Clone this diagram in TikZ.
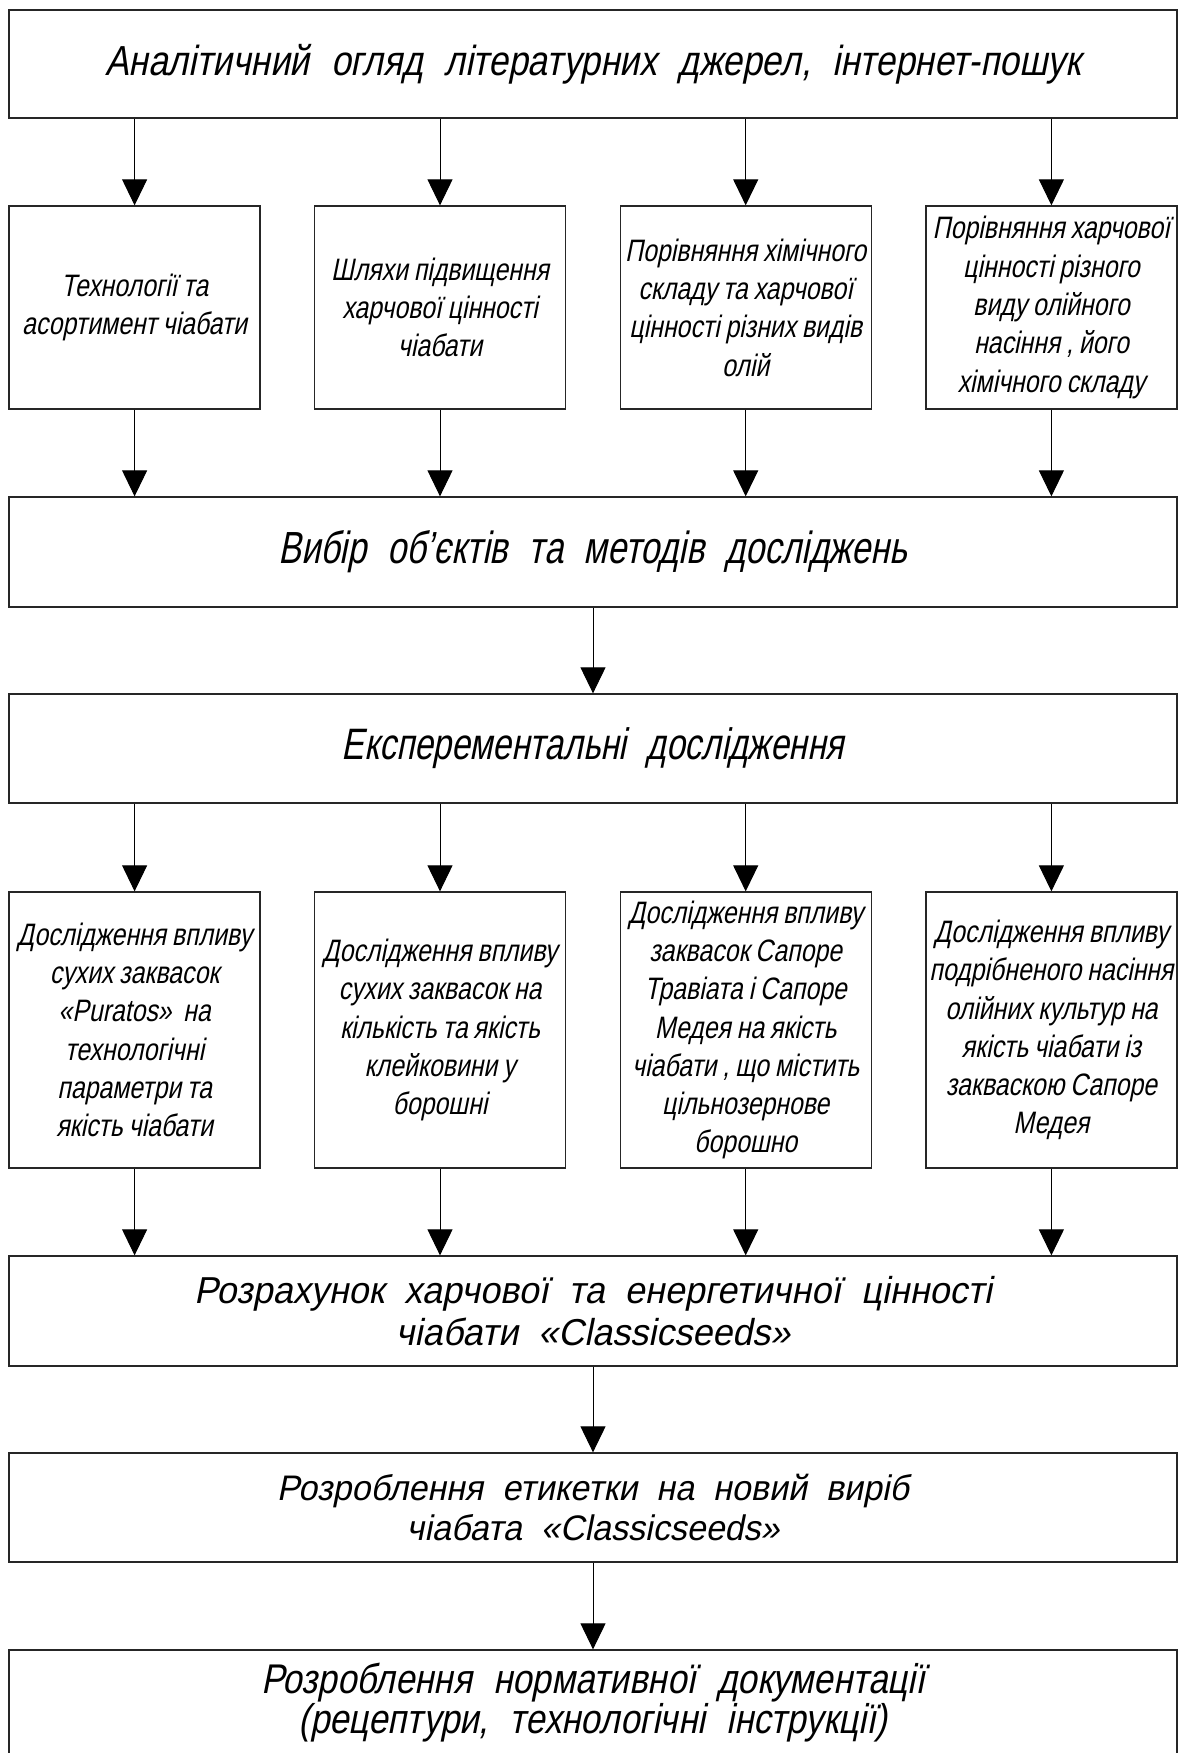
\documentclass[tikz,border=0pt]{standalone}
\usepackage{fontspec}
\setmainfont{Liberation Sans}
\newfontfamily\cadsmall[FakeStretch=0.8,FakeSlant=0.2,WordSpace=0.85]{Liberation Sans}
\newfontfamily\cadA[FakeStretch=0.84,FakeSlant=0.2,WordSpace=2.2]{Liberation Sans}
\newfontfamily\cadB[FakeStretch=0.76,FakeSlant=0.2,WordSpace=2.2]{Liberation Sans}
\newfontfamily\cadC[FakeStretch=0.96,FakeSlant=0.2,WordSpace=2.0]{Liberation Sans}
\usetikzlibrary{arrows.meta}
\begin{document}
\begin{tikzpicture}[x=1pt,y=-1pt,
  box/.style={draw=black!85, line width=1.3pt, rectangle, inner sep=0pt, align=center, text=black},
  smallbox/.style={box, minimum width=251pt, font=\cadsmall\fontsize{31}{38.3}\selectfont},
  bigbox/.style={box, minimum width=1168pt},
  arr/.style={line width=1pt, draw=black, -{Triangle[length=26pt,width=25pt]}}]
\useasboundingbox (0,0) rectangle (1184,1753);
\fill[white] (0,0) rectangle (1184,1753);

% top box
\node[bigbox, minimum height=108pt, font=\cadA\fontsize{42}{40}\selectfont] (A) at (593,64)
  {Аналітичний огляд літературних джерел, інтернет-пошук};

% row 1
\node[smallbox, minimum height=203pt] (R1a) at (134.6,307.5) {Технології та\\асортимент чіабати};
\node[smallbox, minimum height=203pt] (R1b) at (440,307.5) {Шляхи підвищення\\харчової цінності\\чіабати};
\node[smallbox, minimum height=203pt] (R1c) at (745.7,307.5) {Порівняння хімічного\\складу та харчової\\цінності різних видів\\олій};
\node[smallbox, minimum height=203pt] (R1d) at (1051.4,307.5) {Порівняння харчової\\цінності різного\\виду олійного\\насіння , його\\хімічного складу};

\node[bigbox, minimum height=110pt, font=\cadB\fontsize{45}{40}\selectfont] (B) at (593,552)
  {Вибір об’єктів та методів досліджень};
\node[bigbox, minimum height=109pt, font=\cadB\fontsize{44}{40}\selectfont] (C) at (593,748.5)
  {Експерементальні дослідження};

% row 2
\node[smallbox, minimum height=276pt] (R2a) at (134.6,1030) {Дослідження впливу\\сухих заквасок\\«Puratos»\ \ на\\технологічні\\параметри та\\якість чіабати};
\node[smallbox, minimum height=276pt] (R2b) at (440,1030) {Дослідження впливу\\сухих заквасок на\\кількість та якість\\клейковини у\\борошні};
\node[smallbox, minimum height=276pt] (R2c) at (745.7,1030) {Дослідження впливу\\заквасок Сапоре\\Травіата і Сапоре\\Медея на якість\\чіабати , що містить\\цільнозернове\\борошно};
\node[smallbox, minimum height=276pt] (R2d) at (1051.4,1030) {Дослідження впливу\\подрібненого насіння\\олійних культур на\\якість чіабати із\\закваскою Сапоре\\Медея};

\node[bigbox, minimum height=110pt, font=\cadC\fontsize{37.5}{42}\selectfont] (D) at (593,1311)
  {Розрахунок харчової та енергетичної цінності\\чіабати «Classicseeds»};
\node[bigbox, minimum height=109pt, font=\cadC\fontsize{35.5}{40}\selectfont] (E) at (593,1507.5)
  {Розроблення етикетки на новий виріб\\чіабата «Classicseeds»};
\node[bigbox, minimum height=106pt, font=\cadA\fontsize{41.5}{40}\selectfont] (F) at (593,1703)
  {Розроблення нормативної документації\\(рецептури, технологічні інструкції)};

% arrows
\foreach \n in {R1a,R1b,R1c,R1d}{
  \draw[arr] (A.south -| \n.north) -- (\n.north);
  \draw[arr] (\n.south) -- (B.north -| \n.south);
}
\draw[arr] (B.south) -- (C.north);
\foreach \n in {R2a,R2b,R2c,R2d}{
  \draw[arr] (C.south -| \n.north) -- (\n.north);
  \draw[arr] (\n.south) -- (D.north -| \n.south);
}
\draw[arr] (D.south) -- (E.north);
\draw[arr] (E.south) -- (F.north);
\end{tikzpicture}
\end{document}
